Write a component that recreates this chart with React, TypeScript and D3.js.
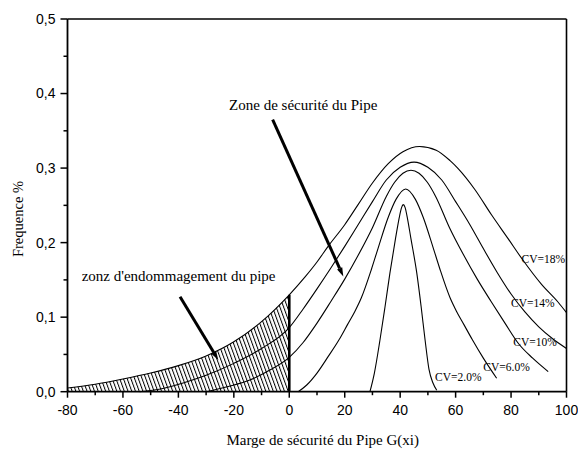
import React from 'react';
import * as d3 from 'd3';

const W = 578;
const H = 454;

// axis ticks
const xTicks = [-80, -60, -40, -20, 0, 20, 40, 60, 80, 100];
const xMinor = [-70, -50, -30, -10, 10, 30, 50, 70, 90];
const yTicks = [0, 0.1, 0.2, 0.3, 0.4, 0.5];
const yTickLabels = ['0,0', '0,1', '0,2', '0,3', '0,4', '0,5'];
const yMinor = [0.05, 0.15, 0.25, 0.35, 0.45];

// series
const cv18X = [-80, -70, -60, -50, -40, -30, -20, -10, 0, 5.7, 10, 14, 20, 25, 30, 35.7, 41, 47, 53, 58, 61, 67, 73, 79, 84, 91, 97, 100];
const cv18Y = [0.005, 0.010, 0.017, 0.025, 0.035, 0.048, 0.067, 0.094, 0.130, 0.154, 0.174, 0.195, 0.224, 0.252, 0.280, 0.306, 0.322, 0.329, 0.324, 0.310, 0.299, 0.271, 0.237, 0.205, 0.178, 0.144, 0.120, 0.106];

const cv14X = [-54, -46, -38, -30, -20, -10, 0, 5, 10, 15, 20, 25, 30, 35, 40, 45, 50, 55, 60, 65, 70, 75, 80, 85, 90, 95, 100];
const cv14Y = [0, 0.004, 0.012, 0.022, 0.038, 0.058, 0.086, 0.111, 0.138, 0.166, 0.195, 0.225, 0.255, 0.284, 0.301, 0.308, 0.301, 0.284, 0.255, 0.225, 0.192, 0.160, 0.131, 0.107, 0.087, 0.071, 0.058];

const cv10X = [-30, -22, -14, -7, 0, 5, 10, 15, 20, 25, 30, 35, 38, 41, 43.9, 46.8, 49.8, 52.8, 57.8, 62.8, 67.8, 72.8, 77.8, 82.8, 87.8, 93.4];
const cv10Y = [0, 0.007, 0.016, 0.029, 0.046, 0.066, 0.092, 0.121, 0.151, 0.184, 0.220, 0.262, 0.281, 0.293, 0.297, 0.293, 0.281, 0.262, 0.220, 0.184, 0.151, 0.121, 0.092, 0.064, 0.045, 0.027];

const cv6X = [3.2, 6.3, 10, 14, 18, 21, 23.7, 26, 29.7, 32, 35.7, 38.5, 42, 45.5, 48.3, 52, 54.3, 58, 60.3, 63, 66, 70, 74.8];
const cv6Y = [0, 0.009, 0.025, 0.047, 0.070, 0.090, 0.108, 0.126, 0.165, 0.192, 0.234, 0.258, 0.272, 0.258, 0.234, 0.192, 0.165, 0.126, 0.108, 0.090, 0.070, 0.045, 0.018];

const cv2X = [29.1, 30.7, 32.7, 34.5, 36.3, 38.3, 39.8, 40.5, 41.1, 41.8, 42.4, 43.9, 46.0, 47.6, 49.0, 50.4, 51.8, 53.2];
const cv2Y = [0, 0.025, 0.069, 0.113, 0.159, 0.205, 0.236, 0.247, 0.251, 0.247, 0.237, 0.205, 0.159, 0.113, 0.069, 0.030, 0.012, 0.002];

const cvLabels = ['CV=18%', 'CV=14%', 'CV=10%', 'CV=6.0%', 'CV=2.0%'];
const cvLabelX = [83.8, 80.0, 80.8, 70.0, 52.6];
const cvLabelY = [0.173, 0.113, 0.061, 0.028, 0.014];

const seriesX = [cv18X, cv14X, cv10X, cv6X, cv2X];
const seriesY = [cv18Y, cv14Y, cv10Y, cv6Y, cv2Y];

// annotations (data coords)
const safeText = 'Zone de sécurité du Pipe';
const safeTextPos = [-21.7, 0.378];
const safeArrow = [[-6.0, 0.365], [19.5, 0.1545]];
const damageText = "zonz d'endommagement du pipe";
const damageTextPos = [-74.9, 0.148];
const damageArrow = [[-39.4, 0.1275], [-25.6, 0.0425]];

const serif = '"Liberation Serif", "Times New Roman", Times, serif';
const sans = '"Liberation Sans", Arial, Helvetica, sans-serif';

const x = d3.scaleLinear().domain([-80, 100]).range([67.5, 566.5]);
const y = d3.scaleLinear().domain([0, 0.5]).range([391.7, 19]);

const toPts = (xs: number[], ys: number[]) => xs.map((v, i) => [v, ys[i]] as [number, number]);

const line = d3.line<[number, number]>()
  .x(d => x(d[0]))
  .y(d => y(d[1]))
  .curve(d3.curveMonotoneX);

const area = d3.area<[number, number]>()
  .x(d => x(d[0]))
  .y0(y(0))
  .y1(d => y(d[1]))
  .curve(d3.curveMonotoneX);

function Arrow({ from, to }: { from: number[]; to: number[] }) {
  const x1 = x(from[0]), y1 = y(from[1]);
  const x2 = x(to[0]), y2 = y(to[1]);
  const ang = Math.atan2(y2 - y1, x2 - x1);
  const len = 9, half = 2.8;
  const bx = x2 - len * Math.cos(ang), by = y2 - len * Math.sin(ang);
  const px = -Math.sin(ang) * half, py = Math.cos(ang) * half;
  return (
    <g>
      <line x1={x1} y1={y1} x2={bx} y2={by} stroke="#000" strokeWidth={3} />
      <polygon points={`${x2},${y2} ${bx + px},${by + py} ${bx - px},${by - py}`} fill="#000" />
    </g>
  );
}

export default function App() {
  const hatchPts = toPts(cv18X, cv18Y).filter(d => d[0] <= 0);
  const x0 = x(0), yBot = y(0), yTop = y(0.5), xL = x(-80), xR = x(100);

  return (
    <svg width={W} height={H} style={{ position: 'absolute', left: 0, top: 0, background: '#fff' }}>
      <defs>
        <pattern id="hatch" width={3.5} height={10} patternUnits="userSpaceOnUse" patternTransform="rotate(-20)">
          <line x1={0.5} y1={0} x2={0.5} y2={10} stroke="#000" strokeWidth={1} />
        </pattern>
      </defs>
      <rect width={W} height={H} fill="#fff" />

      {/* hatched damage zone */}
      <path d={area(hatchPts) || ''} fill="url(#hatch)" />
      <line x1={x0} x2={x0} y1={yBot} y2={y(cv18Y[cv18X.indexOf(0)])} stroke="#000" strokeWidth={2.6} />

      {/* curves */}
      {seriesX.map((xs, i) => (
        <path key={i} d={line(toPts(xs, seriesY[i])) || ''} fill="none" stroke="#000" strokeWidth={1.1} />
      ))}

      {/* CV labels */}
      {cvLabels.map((t, i) => (
        <text key={t} x={x(cvLabelX[i])} y={y(cvLabelY[i])} fontFamily={serif} fontSize={11.5} fill="#000">{t}</text>
      ))}

      {/* annotations */}
      <text x={x(safeTextPos[0])} y={y(safeTextPos[1])} fontFamily={serif} fontSize={15} fill="#000">{safeText}</text>
      <Arrow from={safeArrow[0]} to={safeArrow[1]} />
      <text x={x(damageTextPos[0])} y={y(damageTextPos[1])} fontFamily={serif} fontSize={15} fill="#000">{damageText}</text>
      <Arrow from={damageArrow[0]} to={damageArrow[1]} />

      {/* frame */}
      <line x1={xL} x2={xR} y1={yTop} y2={yTop} stroke="#000" strokeWidth={1.6} />
      <line x1={xR} x2={xR} y1={yTop} y2={yBot} stroke="#000" strokeWidth={1.6} />
      <line x1={xL} x2={xL} y1={yTop} y2={yBot} stroke="#000" strokeWidth={1.8} />
      <line x1={xL} x2={xR} y1={yBot} y2={yBot} stroke="#000" strokeWidth={1.8} />

      {/* x ticks */}
      {xTicks.map(t => (
        <g key={t}>
          <line x1={x(t)} x2={x(t)} y1={yBot} y2={yBot + 6} stroke="#000" strokeWidth={1.5} />
          <text x={x(t)} y={yBot + 23.3} textAnchor="middle" fontFamily={sans} fontSize={14} fill="#000">{t}</text>
        </g>
      ))}
      {xMinor.map(t => (
        <line key={t} x1={x(t)} x2={x(t)} y1={yBot} y2={yBot + 3.5} stroke="#000" strokeWidth={1.5} />
      ))}

      {/* y ticks */}
      {yTicks.map((t, i) => (
        <g key={t}>
          <line x1={xL - 7} x2={xL} y1={y(t)} y2={y(t)} stroke="#000" strokeWidth={1.5} />
          <text x={xL - 12} y={y(t)} dy="0.35em" textAnchor="end" fontFamily={sans} fontSize={14} fill="#000">{yTickLabels[i]}</text>
        </g>
      ))}
      {yMinor.map(t => (
        <line key={t} x1={xL - 4} x2={xL} y1={y(t)} y2={y(t)} stroke="#000" strokeWidth={1.5} />
      ))}

      {/* axis titles */}
      <text x={322.7} y={445} textAnchor="middle" fontFamily={serif} fontSize={15} fill="#000">Marge de sécurité du Pipe G(xi)</text>
      <text transform="translate(23,219) rotate(-90)" textAnchor="middle" fontFamily={serif} fontSize={14.5} fill="#000">Frequence %</text>
    </svg>
  );
}
